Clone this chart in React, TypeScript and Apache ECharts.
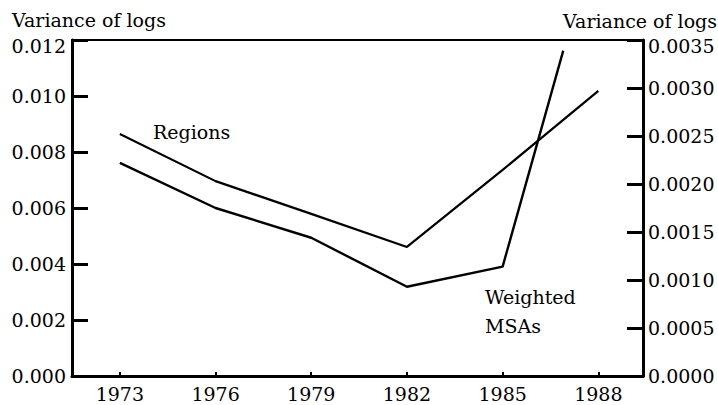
import React, { useEffect, useRef } from "react";
import * as echarts from "echarts";

const years = [1973, 1976, 1979, 1982, 1985, 1988];
const regionsYears = [1973, 1976, 1979, 1982, 1985, 1988];
const regionsValues = [0.00864, 0.00696, 0.00579, 0.00461, 0.00736, 0.01018];
const msaYears = [1973, 1976, 1979, 1982, 1985, 1986.9];
const msaValues = [0.00222, 0.00175, 0.00144, 0.00093, 0.00114, 0.00339];
const axisTitle = "Variance of logs";

const FONT = "DejaVu Serif";

export default function App() {
  const ref = useRef<HTMLDivElement>(null);
  useEffect(() => {
    if (!ref.current) return;
    const chart = echarts.init(ref.current, null, { renderer: "svg" });
    const labelStyle = { color: "#000", fontFamily: FONT, fontSize: 19 };
    const rich = {
      t: { color: "#000", fontFamily: FONT, fontSize: 19, padding: [11, 0, 0, 0] },
    };
    chart.setOption({
      animation: false,
      backgroundColor: "#fff",
      grid: {
        left: 72,
        right: 75,
        top: 40,
        bottom: 29,
        show: true,
        borderColor: "#000",
        borderWidth: 2,
        containLabel: false,
      },
      xAxis: {
        type: "value",
        min: 1971.5,
        max: 1989.4,
        splitLine: { show: false },
        axisLine: { show: true, lineStyle: { color: "#000", width: 3 } },
        axisTick: {
          show: true,
          inside: true,
          length: 4,
          customValues: years,
          lineStyle: { color: "#000", width: 2 },
        },
        axisLabel: {
          ...labelStyle,
          margin: 8,
          customValues: years,
          formatter: (v: number) => String(v),
        },
      },
      yAxis: [
        {
          type: "value",
          min: 0,
          max: 0.012,
          interval: 0.002,
          position: "left",
          splitLine: { show: false },
          axisLine: { show: true, lineStyle: { color: "#000", width: 3 } },
          axisTick: { show: true, inside: true, length: 16, lineStyle: { color: "#000", width: 3 } },
          axisLabel: {
            ...labelStyle,
            margin: 6,
            rich,
            formatter: (v: number) => (v >= 0.012 - 1e-9 ? `{t|${v.toFixed(3)}}` : v.toFixed(3)),
          },
        },
        {
          type: "value",
          min: 0,
          max: 0.0035,
          interval: 0.0005,
          position: "right",
          splitLine: { show: false },
          axisLine: { show: true, lineStyle: { color: "#000", width: 3 } },
          axisTick: { show: true, inside: true, length: 16, lineStyle: { color: "#000", width: 3 } },
          axisLabel: {
            ...labelStyle,
            margin: 5,
            rich,
            formatter: (v: number) => (v >= 0.0035 - 1e-9 ? `{t|${v.toFixed(4)}}` : v.toFixed(4)),
          },
        },
      ],
      graphic: [
        {
          type: "text",
          left: 12,
          top: 10,
          style: { text: axisTitle, fill: "#000", font: `19px "${FONT}"` },
        },
        {
          type: "text",
          right: 1,
          top: 11,
          style: { text: axisTitle, fill: "#000", font: `19px "${FONT}"` },
        },
        {
          type: "text",
          left: 153,
          top: 122,
          style: { text: "Regions", fill: "#000", font: `19px "${FONT}"` },
        },
        {
          type: "text",
          left: 485,
          top: 282,
          style: { text: "Weighted\nMSAs", fill: "#000", font: `19px "${FONT}"`, lineHeight: 29 },
        },
      ],
      series: [
        {
          name: "Regions",
          type: "line",
          yAxisIndex: 0,
          symbol: "none",
          lineStyle: { color: "#000", width: 2.2 },
          data: regionsYears.map((y, i) => [y, regionsValues[i]]),
        },
        {
          name: "Weighted MSAs",
          type: "line",
          yAxisIndex: 1,
          symbol: "none",
          lineStyle: { color: "#000", width: 2.4 },
          data: msaYears.map((y, i) => [y, msaValues[i]]),
        },
      ],
    });
    return () => chart.dispose();
  }, []);
  return <div ref={ref} style={{ width: 718, height: 405, position: "absolute", left: 0, top: 0 }} />;
}
